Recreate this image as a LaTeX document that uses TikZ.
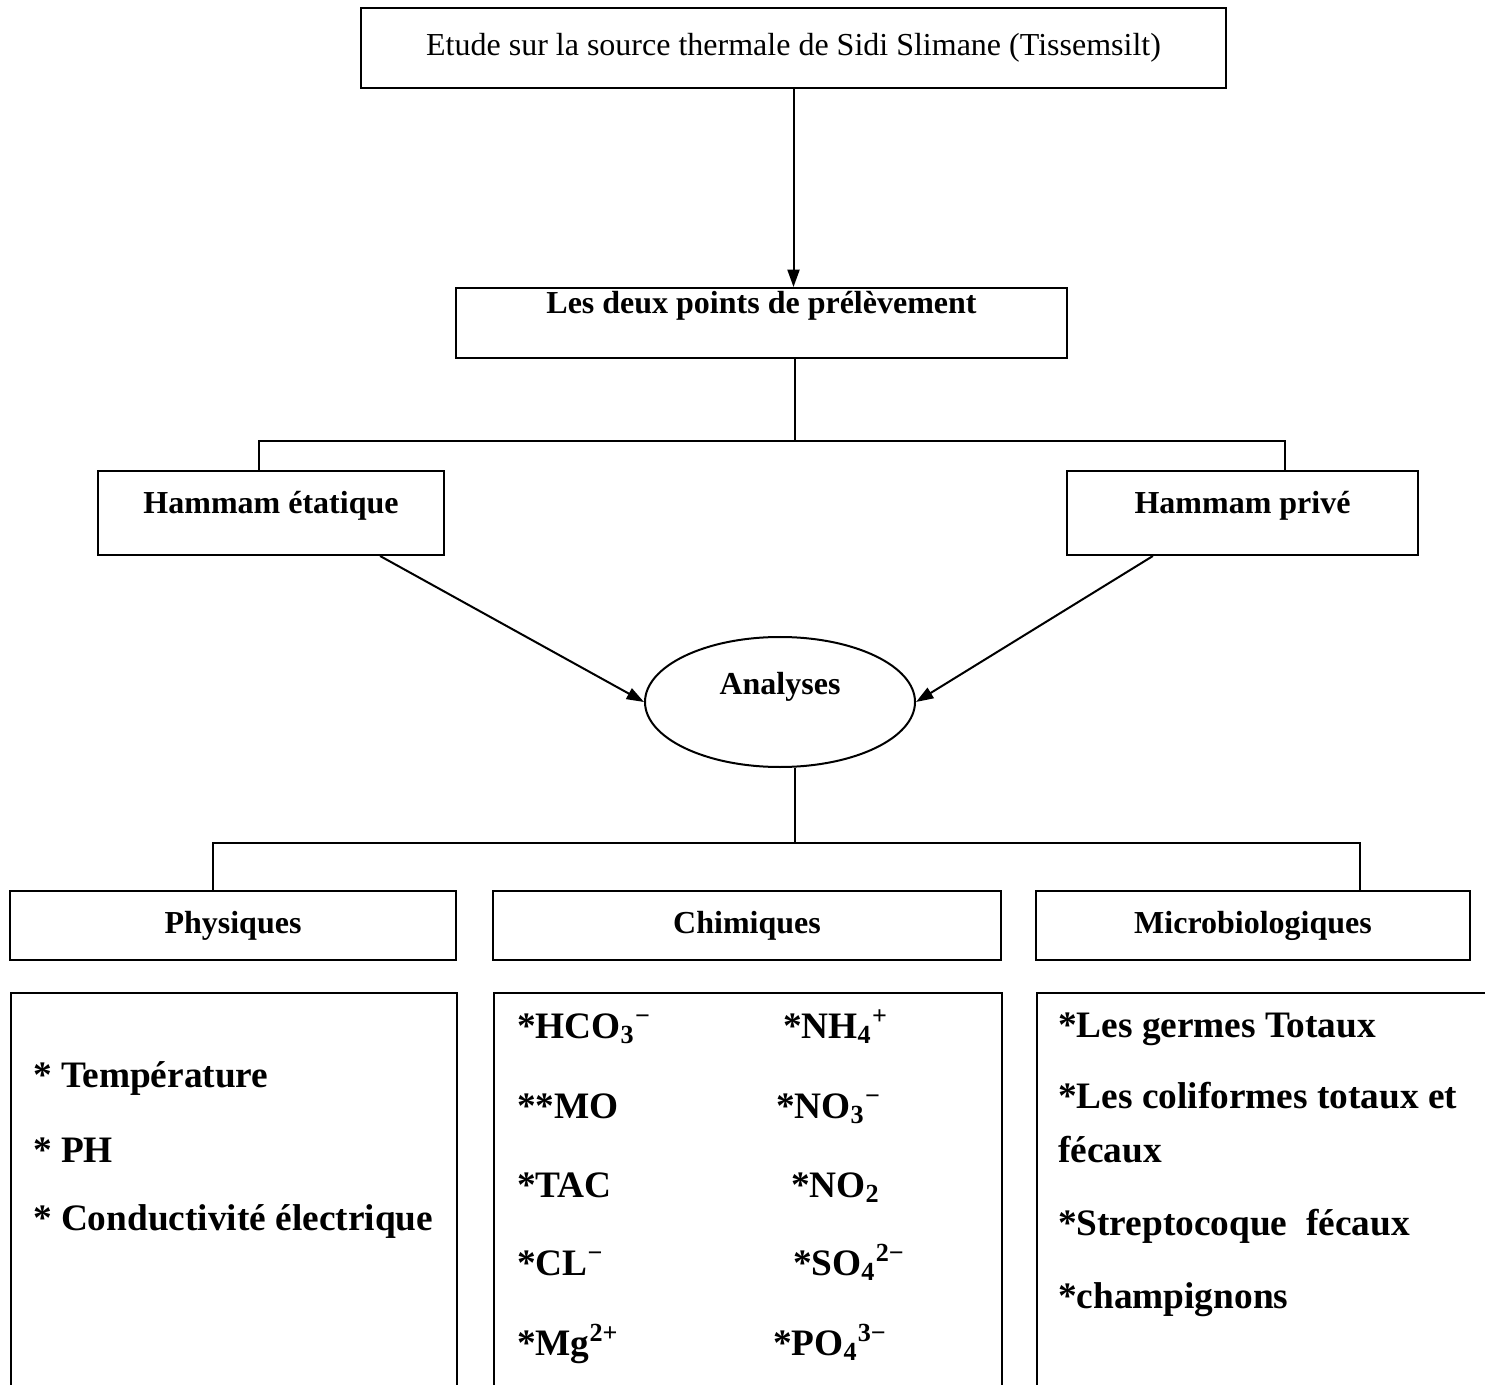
\documentclass[tikz,border=0pt]{standalone}
\usepackage{fontspec}
\setmainfont{Liberation Serif}
\usetikzlibrary{arrows.meta,shapes.geometric}
\tikzstyle{box}=[draw, inner sep=0pt, font=\fontsize{12}{14}\selectfont\bfseries]
\tikzstyle{listbox}=[draw, anchor=north west, minimum height=170pt]
\tikzstyle{entry}=[anchor=base west, inner sep=0pt, font=\fontsize{14}{17}\selectfont\bfseries]

\begin{document}
\begin{tikzpicture}[x=0.375pt, y=-0.375pt, line width=0.75pt, >={Triangle[length=6.5pt,width=4.5pt]}]
            \useasboundingbox (0,0) rectangle (1485,1385);
            \clip (0,0) rectangle (1485,1385);
            % boxes
            \node [box, font=\fontsize{12}{14}\selectfont, minimum width=324.4pt, minimum height=30pt] (etude) at (793.5,48) {Etude sur la source thermale de Sidi Slimane (Tissemsilt)};
            \node [box, minimum width=229.1pt, text height=9.5pt, text depth=16.75pt] (points) at (761.5,323) {Les deux points de prélèvement};
            \node [box, minimum width=129.75pt, text height=16pt, text depth=15.5pt] (hetat) at (271,513) {Hammam étatique};
            \node [box, minimum width=131.6pt, text height=16pt, text depth=15.5pt] (hprive) at (1242.5,513) {Hammam privé};
            \node [box, ellipse, minimum width=101.25pt, minimum height=48.75pt, text height=8pt, text depth=14pt] (analyses) at (780,702) {Analyses};
            \node [box, minimum width=167.25pt, minimum height=25.9pt] (phys) at (233,925.5) {Physiques};
            \node [box, minimum width=190.5pt, minimum height=25.9pt] (chim) at (747,925.5) {Chimiques};
            \node [box, minimum width=162.75pt, minimum height=25.9pt] (micro) at (1253,925.5) {Microbiologiques};
            \node [listbox, minimum width=167.25pt] (physL) at (10,992) {};
            \node [listbox, minimum width=190.5pt] (chimL) at (493,992) {};
            \node [listbox, minimum width=174.4pt] (microL) at (1036,992) {};
            % lists
            \node [entry] (t1) at (32,1087) {* Température};
            \node [entry] (t2) at (32,1162) {* PH};
            \node [entry] (t3) at (32,1230) {* Conductivité électrique};
            \node [entry] (c1) at (516,1038) {*HCO\textsubscript{3}\textsuperscript{−}};
            \node [entry] (c2) at (516,1118) {**MO};
            \node [entry] (c3) at (516,1197) {*TAC};
            \node [entry] (c4) at (516,1275) {*CL\textsuperscript{−}};
            \node [entry] (c5) at (516,1355) {*Mg\textsuperscript{2+}};
            \node [entry] (c6) at (782,1038) {*NH\textsubscript{4}\textsuperscript{+}};
            \node [entry] (c7) at (775,1118) {*NO\textsubscript{3}\textsuperscript{−}};
            \node [entry] (c8) at (790,1197) {*NO\textsubscript{2}};
            \node [entry] (c9) at (792,1275) {*SO\textsubscript{4}\textsuperscript{2−}};
            \node [entry] (c10) at (772,1355) {*PO\textsubscript{4}\textsuperscript{3−}};
            \node [entry] (m1) at (1057,1037) {*Les germes Totaux};
            \node [entry] (m2) at (1057,1108) {*Les coliformes totaux et};
            \node [entry] (m3) at (1057,1162) {fécaux};
            \node [entry] (m4) at (1057,1235) {*Streptocoque\ \ fécaux};
            \node [entry] (m5) at (1057,1308) {*champignons};
            % connectors
            \coordinate (f1) at (795,441);
            \coordinate (f2) at (795,843);
            \path[->] (etude.south) edge (etude.south |- points.north);
            \draw (f1 |- points.south) -- (f1);
            \draw ([xshift=-4.5pt]hetat.north) |- (f1) -| ([xshift=15.9pt]hprive.north);
            \path[->] ([xshift=40.9pt]hetat.south) edge (analyses.west);
            \path[->] ([xshift=-33.6pt]hprive.south) edge (analyses.east);
            \draw (f2 |- analyses.south) -- (f2);
            \draw ([xshift=-7.5pt]phys.north) |- (f2) -| ([xshift=40.1pt]micro.north);
        \end{tikzpicture}
\end{document}
